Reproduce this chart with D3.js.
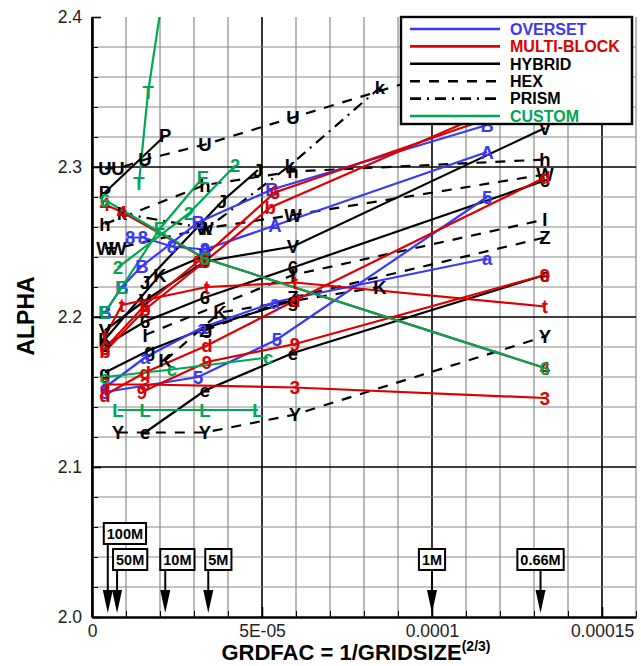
<!DOCTYPE html>
<html><head><meta charset="utf-8">
<script src="https://cdn.jsdelivr.net/npm/d3@7"></script>
<style>
body{margin:0;background:#fff;}
svg{display:block;font-family:"Liberation Sans",Arial,sans-serif;}
</style></head>
<body><svg id="chart" width="641" height="666"></svg>
<script>
// ---- axis ticks ----
const yTickValues = [2.0, 2.1, 2.2, 2.3, 2.4];
const xTickValues = [0, 5e-5, 1e-4, 1.5e-4];
const xTickLabels = ["0", "5E-05", "0.0001", "0.00015"];

// ---- grid-size markers (cells) ----
const markerSizes  = [100e6, 50e6, 10e6, 5e6, 1e6, 0.66e6];
const markerLabels = ["100M", "50M", "10M", "5M", "1M", "0.66M"];

// ---- HYBRID (solid black) ----
const hybE = [[15.6e-6,2.123],[33.2e-6,2.151],[59.1e-6,2.176],[133.2e-6,2.228]];
const hyb6 = [[3.8e-6,2.181],[15.6e-6,2.197],[33.2e-6,2.213],[59.1e-6,2.233],[133.2e-6,2.291]];
const hybV = [[3.8e-6,2.191],[15.6e-6,2.211],[33.2e-6,2.237],[59.1e-6,2.247],[133.2e-6,2.326]];
const hybP = [[3.8e-6,2.283],[21.5e-6,2.321]];
const hybJ = [[15.6e-6,2.223],[38.2e-6,2.277],[48.8e-6,2.298]];
const hybK = [[3.8e-6,2.185],[20.0e-6,2.228],[33.2e-6,2.241]];
const hybG = [[3.8e-6,2.163],[17.0e-6,2.178],[33.8e-6,2.193],[59.1e-6,2.211]];

// ---- HEX (dashed black) ----
const hexU = [[3.8e-6,2.299],[7.6e-6,2.299],[15.6e-6,2.305],[33.2e-6,2.315],[59.1e-6,2.333],[102.4e-6,2.363]];
const hexY = [[7.6e-6,2.123],[33.2e-6,2.123],[59.7e-6,2.135],[133.2e-6,2.187]];
const hexH = [[3.8e-6,2.262],[33.2e-6,2.288],[59.1e-6,2.297],[133.2e-6,2.305]];
const hexW = [[3.8e-6,2.246],[7.6e-6,2.246],[33.2e-6,2.259],[59.1e-6,2.268],[133.2e-6,2.295]];
const hexK = [[21.5e-6,2.171],[37.6e-6,2.203],[84.7e-6,2.220]];
const hexZ = [[33.2e-6,2.191],[59.1e-6,2.213],[133.2e-6,2.253]];
const hexI = [[15.6e-6,2.188],[59.1e-6,2.228],[133.2e-6,2.265]];

// ---- PRISM (dash-dot black) ----
const prismK = [[8.8e-6,2.269],[33.8e-6,2.259],[58.2e-6,2.301],[84.7e-6,2.353]];

// ---- OVERSET (blue) ----
const ovB = [[3.8e-6,2.203],[8.8e-6,2.220],[14.7e-6,2.234],[31.2e-6,2.263],[52.9e-6,2.285],[116.2e-6,2.328]];
const ov8 = [[11.2e-6,2.253],[15.0e-6,2.253],[23.5e-6,2.247],[33.2e-6,2.245]];
const ovA = [[33.2e-6,2.245],[53.8e-6,2.261],[116.2e-6,2.310]];
const ovLa = [[3.8e-6,2.153],[15.6e-6,2.173],[32.4e-6,2.193],[53.8e-6,2.210],[116.2e-6,2.239]];
const ov5 = [[3.8e-6,2.150],[31.2e-6,2.160],[54.4e-6,2.185],[116.2e-6,2.280]];

// ---- MULTI-BLOCK (red) ----
const mb6 = [[3.8e-6,2.179],[15.6e-6,2.208],[31.2e-6,2.237],[53.8e-6,2.283],[116.2e-6,2.332]];
const mbB = [[3.8e-6,2.177],[15.6e-6,2.205],[33.2e-6,2.237],[52.4e-6,2.273],[116.2e-6,2.336]];
const mbD = [[3.8e-6,2.148],[15.6e-6,2.163],[33.8e-6,2.181],[59.7e-6,2.211],[133.2e-6,2.293]];
const mbT = [[3.8e-6,2.187],[8.8e-6,2.208],[33.8e-6,2.220],[59.7e-6,2.223],[133.2e-6,2.207]];
const mb9 = [[14.7e-6,2.150],[33.8e-6,2.170],[59.7e-6,2.182],[133.2e-6,2.228]];
const mb3 = [[3.8e-6,2.155],[15.6e-6,2.155],[59.7e-6,2.153],[133.2e-6,2.146]];
const mb4 = [[3.8e-6,2.275],[8.8e-6,2.270],[33.2e-6,2.239],[133.2e-6,2.166]];

// ---- CUSTOM (green) ----
const cuT = [[13.8e-6,2.289],[16.5e-6,2.350],[20.5e-6,2.410]];
const cuE = [[3.8e-6,2.203],[8.8e-6,2.220],[20.0e-6,2.259],[32.6e-6,2.293]];
const cu2 = [[7.6e-6,2.233],[28.5e-6,2.269],[42.1e-6,2.301]];
const cu6 = [[3.8e-6,2.278],[33.2e-6,2.239],[133.2e-6,2.166]];
const cuL = [[7.6e-6,2.138],[15.6e-6,2.138],[33.2e-6,2.138],[48.8e-6,2.138]];
const cuC = [[3.8e-6,2.160],[23.5e-6,2.165],[51.8e-6,2.173]];

// ---- group styles ----
const COLORS = {OVERSET:"#3838f8", "MULTI-BLOCK":"#dc0000", HYBRID:"#000", HEX:"#000", PRISM:"#000", CUSTOM:"#00a651"};
const DASHES = {OVERSET:null, "MULTI-BLOCK":null, HYBRID:null, HEX:"10,9", PRISM:"11,6,2,6", CUSTOM:null};
const legendNames = ["OVERSET","MULTI-BLOCK","HYBRID","HEX","PRISM","CUSTOM"];

// draw order: black groups first, then coloured ones
const seriesList = [
  {g:"HEX", s:"U", d:hexU}, {g:"HEX", s:"Y", d:hexY}, {g:"HEX", s:"h", d:hexH},
  {g:"HEX", s:"W", d:hexW}, {g:"HEX", s:"K", d:hexK}, {g:"HEX", s:"Z", d:hexZ},
  {g:"HEX", s:"I", d:hexI},
  {g:"PRISM", s:"k", d:prismK},
  {g:"HYBRID", s:"e", d:hybE}, {g:"HYBRID", s:"6", d:hyb6}, {g:"HYBRID", s:"V", d:hybV},
  {g:"HYBRID", s:"P", d:hybP}, {g:"HYBRID", s:"J", d:hybJ}, {g:"HYBRID", s:"K", d:hybK},
  {g:"HYBRID", s:"g", d:hybG},
  {g:"OVERSET", s:"B", d:ovB}, {g:"OVERSET", s:"8", d:ov8}, {g:"OVERSET", s:"A", d:ovA},
  {g:"OVERSET", s:"a", d:ovLa}, {g:"OVERSET", s:"5", d:ov5},
  {g:"MULTI-BLOCK", s:"6", d:mb6}, {g:"MULTI-BLOCK", s:"b", d:mbB}, {g:"MULTI-BLOCK", s:"d", d:mbD},
  {g:"MULTI-BLOCK", s:"t", d:mbT}, {g:"MULTI-BLOCK", s:"9", d:mb9}, {g:"MULTI-BLOCK", s:"3", d:mb3},
  {g:"MULTI-BLOCK", s:"4", d:mb4},
  {g:"CUSTOM", s:"T", d:cuT}, {g:"CUSTOM", s:"E", d:cuE}, {g:"CUSTOM", s:"2", d:cu2},
  {g:"CUSTOM", s:"6", d:cu6}, {g:"CUSTOM", s:"L", d:cuL}, {g:"CUSTOM", s:"c", d:cuC}
];

// ---- layout ----
const svg = d3.select("#chart");
const L = 92, R = 636, T = 17, B = 617;
const x = d3.scaleLinear().domain([0, 1.6e-4]).range([L, R]);
const y = d3.scaleLinear().domain([2.0, 2.4]).range([B, T]);

// grid
const gGrid = svg.append("g");
const xMinor = d3.range(0, 1.6e-4 + 1e-12, 1e-5);
const yMinor = d3.range(0, 20).map(i => 2.0 + i * 0.02);
gGrid.selectAll("line.vx").data(xMinor).join("line")
  .attr("x1", d => x(d)).attr("x2", d => x(d)).attr("y1", T).attr("y2", B)
  .attr("stroke", d => (Math.round(d / 1e-5) % 5 === 0) ? "#000" : "#8a8a8a")
  .attr("stroke-width", d => (Math.round(d / 1e-5) % 5 === 0) ? 1.6 : 1.2);
gGrid.selectAll("line.hy").data(yMinor.filter(v => v > 2.001)).join("line")
  .attr("x1", L).attr("x2", R).attr("y1", d => y(d)).attr("y2", d => y(d))
  .attr("stroke", d => (Math.round((d - 2) / 0.02) % 5 === 0) ? "#000" : "#8a8a8a")
  .attr("stroke-width", d => (Math.round((d - 2) / 0.02) % 5 === 0) ? 1.6 : 1.2);

// clip for data
svg.append("clipPath").attr("id", "plotclip").append("rect")
  .attr("x", L).attr("y", T).attr("width", R - L).attr("height", B - T);
const gData = svg.append("g").attr("clip-path", "url(#plotclip)");
const line = d3.line().x(d => x(d[0])).y(d => y(d[1]));
const inView = d => d[1] <= y.domain()[1] && d[1] >= y.domain()[0];

seriesList.forEach(sr => {
  gData.append("path").datum(sr.d)
    .attr("d", line).attr("fill", "none")
    .attr("stroke", COLORS[sr.g]).attr("stroke-width", 2.2)
    .attr("stroke-dasharray", DASHES[sr.g]);
});
seriesList.forEach(sr => {
  gData.selectAll(null).data(sr.d.filter(inView)).join("text")
    .attr("x", d => x(d[0])).attr("y", d => y(d[1]))
    .attr("dy", "0.36em").attr("text-anchor", "middle")
    .attr("font-size", 18.5).attr("font-weight", "bold")
    .attr("fill", COLORS[sr.g]).text(sr.s);
});

// grid-size markers
const boxShift = [-4, -4, -5, -3, null, null]; // null = centred on arrow
const gMk = svg.append("g");
markerSizes.forEach((n, i) => {
  const gx = x(Math.pow(n, -2 / 3));
  const top = i === 0 ? 523 : 549;
  const bh = 21;
  const t = gMk.append("text").attr("font-size", 14.5).attr("font-weight", "bold")
    .attr("y", top + bh / 2).attr("dy", "0.36em").text(markerLabels[i]);
  const tw = t.node().getComputedTextLength();
  const bw = tw + 6;
  const bx = boxShift[i] === null ? gx - bw / 2 : gx + boxShift[i];
  gMk.insert("rect", "text").attr("x", bx).attr("y", top).attr("width", bw).attr("height", bh)
    .attr("fill", "#fff").attr("stroke", "#000").attr("stroke-width", 2);
  t.attr("x", bx + 3);
  gMk.append("line").attr("x1", gx).attr("x2", gx).attr("y1", top + bh).attr("y2", 592)
    .attr("stroke", "#000").attr("stroke-width", 2);
  gMk.append("path").attr("d", `M${gx - 5},590 L${gx + 5},590 L${gx},613 Z`).attr("fill", "#000");
});

// axes
const yAxis = d3.axisLeft(y).tickValues(yTickValues).tickFormat(d3.format(".1f"))
  .tickSizeInner(-9).tickSizeOuter(0).tickPadding(10);
const gy = svg.append("g").attr("transform", `translate(${L},0)`).call(yAxis);
const yMinorAxis = d3.axisLeft(y).tickValues(yMinor).tickFormat("").tickSizeInner(-6).tickSizeOuter(0);
svg.append("g").attr("transform", `translate(${L},0)`).call(yMinorAxis).select(".domain").remove();

const xAxis = d3.axisBottom(x).tickValues(xTickValues).tickFormat((d, i) => xTickLabels[i])
  .tickSizeInner(-10).tickSizeOuter(0).tickPadding(8);
const gx = svg.append("g").attr("transform", `translate(0,${B})`).call(xAxis);
const xMinorAxis = d3.axisBottom(x).tickValues(xMinor).tickFormat("").tickSizeInner(-6).tickSizeOuter(0);
svg.append("g").attr("transform", `translate(0,${B})`).call(xMinorAxis).select(".domain").remove();

[gy, gx].forEach(g => {
  g.select(".domain").attr("stroke", "#000").attr("stroke-width", 2.6);
  g.selectAll(".tick line").attr("stroke", "#000").attr("stroke-width", 1.6);
  g.selectAll(".tick text").attr("font-size", 17.5).attr("fill", "#222")
    .attr("font-family", "Liberation Sans, Arial, sans-serif");
});
svg.selectAll(".tick line").attr("stroke", "#000");

// axis titles
svg.append("text").attr("transform", "translate(34,316) rotate(-90)")
  .attr("text-anchor", "middle").attr("font-size", 23).attr("font-weight", "bold").text("ALPHA");
const xt = svg.append("text").attr("x", 356).attr("y", 660).attr("text-anchor", "middle")
  .attr("font-size", 22).attr("font-weight", "bold");
xt.append("tspan").text("GRDFAC = 1/GRIDSIZE");
xt.append("tspan").attr("font-size", 14).attr("dy", -9).text("(2/3)");

// legend
const lg = svg.append("g");
lg.append("rect").attr("x", 401).attr("y", 17).attr("width", 231).attr("height", 107)
  .attr("fill", "#fff").attr("stroke", "#000").attr("stroke-width", 2.4);
legendNames.forEach((nm, i) => {
  const yy = 29 + i * 17.4;
  lg.append("line").attr("x1", 410).attr("x2", 500).attr("y1", yy).attr("y2", yy)
    .attr("stroke", COLORS[nm]).attr("stroke-width", 2.6).attr("stroke-dasharray", DASHES[nm]);
  lg.append("text").attr("x", 510).attr("y", yy).attr("dy", "0.36em")
    .attr("font-size", 16).attr("font-weight", "bold")
    .attr("fill", nm === "HYBRID" || nm === "HEX" || nm === "PRISM" ? "#000" : COLORS[nm]).text(nm);
});
</script></body></html>
